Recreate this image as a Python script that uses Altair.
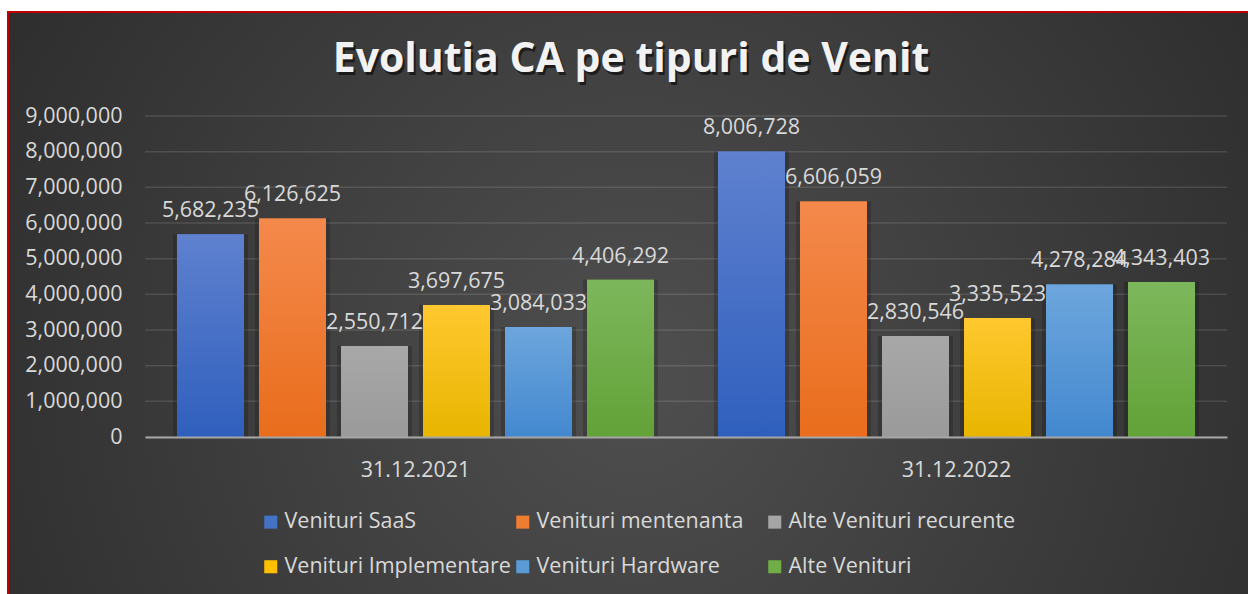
import altair as alt
import pandas as pd

TITLE = "Evolutia CA pe tipuri de Venit"
categories = ["31.12.2021", "31.12.2022"]
series = [
    "Venituri SaaS",
    "Venituri mentenanta",
    "Alte Venituri recurente",
    "Venituri Implementare",
    "Venituri Hardware",
    "Alte Venituri",
]
values_2021 = [5682235, 6126625, 2550712, 3697675, 3084033, 4406292]
values_2022 = [8006728, 6606059, 2830546, 3335523, 4278284, 4343403]
colors_top = ["#5f81cf", "#f4894c", "#a8a8a8", "#ffc82f", "#6da6dd", "#7db75c"]
colors_bottom = ["#2f5fbd", "#e96d1c", "#9a9a9a", "#e8b500", "#4388cf", "#62a237"]
legend_colors = ["#4472c4", "#ed7d31", "#a5a5a5", "#ffc000", "#5b9bd5", "#70ad47"]
y_ticks = [0, 1000000, 2000000, 3000000, 4000000, 5000000, 6000000, 7000000, 8000000, 9000000]

rows = []
for cat, vals in zip(categories, [values_2021, values_2022]):
    for s, v in zip(series, vals):
        rows.append({"Data": cat, "Tip": s, "Valoare": v})
df = pd.DataFrame(rows)
ticks_df = pd.DataFrame({"Valoare": y_ticks})

FONT = "Open Sans"
TXT = "#d9d9d9"
W, H = 1082, 321
PL, PT = 145, 116

x_enc = alt.X(
    "Data:N",
    scale=alt.Scale(domain=categories, paddingInner=0, paddingOuter=0),
    axis=alt.Axis(
        title=None, labelAngle=0, ticks=False, grid=False,
        domainColor="#a6a6a6", domainWidth=2, labelPadding=22,
        labelFont=FONT, labelFontSize=21.5, labelColor=TXT, zindex=1,
    ),
)
xo_enc = alt.XOffset(
    "Tip:N", scale=alt.Scale(domain=series, paddingInner=0.183, paddingOuter=0.39)
)
y_enc = alt.Y(
    "Valoare:Q",
    scale=alt.Scale(domain=[0, 9000000], nice=False, zero=True),
    axis=alt.Axis(
        title=None, values=y_ticks, format=",.0f", grid=False, ticks=False,
        domain=False, labelPadding=23, labelFont=FONT, labelFontSize=21.5,
        labelColor=TXT, zindex=1,
    ),
)

bg = alt.Chart(pd.DataFrame({"k": [0]})).mark_rect(
    fill=alt.RadialGradient(
        gradient="radial",
        stops=[alt.GradientStop(color="#4f4f4f", offset=0),
               alt.GradientStop(color="#272727", offset=1)],
        x1=0.5, y1=0.55, r1=0, x2=0.5, y2=0.55, r2=0.7,
    ),
    stroke="#c00000", strokeWidth=2,
).encode(
    x=alt.value(8 - PL), x2=alt.value(1262 - PL),
    y=alt.value(12 - PT), y2=alt.value(610 - PT),
)

grid = alt.Chart(ticks_df).mark_rule(color="#ffffff", opacity=0.12, strokeWidth=1.5).encode(
    y=y_enc,
    x=alt.value(0), x2=alt.value(W),
)

shadow = alt.Chart(df).mark_bar(color="#000000", opacity=0.18, width=75).encode(
    x=x_enc, xOffset=xo_enc, y=y_enc
)

base = alt.Chart(df).mark_bar().encode(
    x=x_enc, xOffset=xo_enc, y=y_enc,
    color=alt.Color(
        "Tip:N",
        scale=alt.Scale(domain=series, range=legend_colors),
        legend=alt.Legend(
            title=None, orient="none", legendX=115, legendY=395,
            direction="horizontal",
            columns=3, gridAlign="all", symbolType="square", symbolSize=170,
            symbolStrokeWidth=0, symbolOpacity=1, labelFont=FONT,
            labelFontSize=21.5, labelColor=TXT, labelOffset=3,
            columnPadding=-2, rowPadding=22, zindex=1, labelLimit=400,
        ),
    ),
)

grad_layers = []
for s, ct, cb in zip(series, colors_top, colors_bottom):
    grad_layers.append(
        alt.Chart(df).transform_filter(alt.datum.Tip == s).mark_bar(
            fill=alt.LinearGradient(
                gradient="linear",
                stops=[alt.GradientStop(color=ct, offset=0),
                       alt.GradientStop(color=cb, offset=1)],
                x1=0, x2=0, y1=0, y2=1,
            )
        ).encode(x=x_enc, xOffset=xo_enc, y=y_enc)
    )

labels = alt.Chart(df).mark_text(
    font=FONT, fontSize=21.5, color=TXT, baseline="alphabetic", align="center", dy=-17
).encode(x=x_enc, xOffset=xo_enc, y=y_enc, text=alt.Text("Valoare:Q", format=","))

title_df = pd.DataFrame({"t": [TITLE]})
title_shadow = alt.Chart(title_df).mark_text(
    font=FONT, fontSize=41, fontWeight="bold", color="#000000",
    opacity=0.55, align="center", baseline="alphabetic",
).encode(text="t:N", x=alt.value(631 - PL + 2), y=alt.value(72 - PT + 3))
title = alt.Chart(title_df).mark_text(
    font=FONT, fontSize=41, fontWeight="bold", color="#f2f2f2",
    align="center", baseline="alphabetic",
).encode(text="t:N", x=alt.value(631 - PL), y=alt.value(72 - PT))

chart = alt.layer(
    bg, grid, shadow, base, *grad_layers, labels, title_shadow, title
).properties(
    width=W, height=H,
    autosize=alt.AutoSizeParams(type="none"),
    padding={"left": PL, "top": PT, "right": 1248 - PL - W, "bottom": 594 - PT - H},
    background="#ffffff",
).configure_view(stroke=None)

chart.save("out.html", embed_options={"renderer": "svg", "actions": False})
